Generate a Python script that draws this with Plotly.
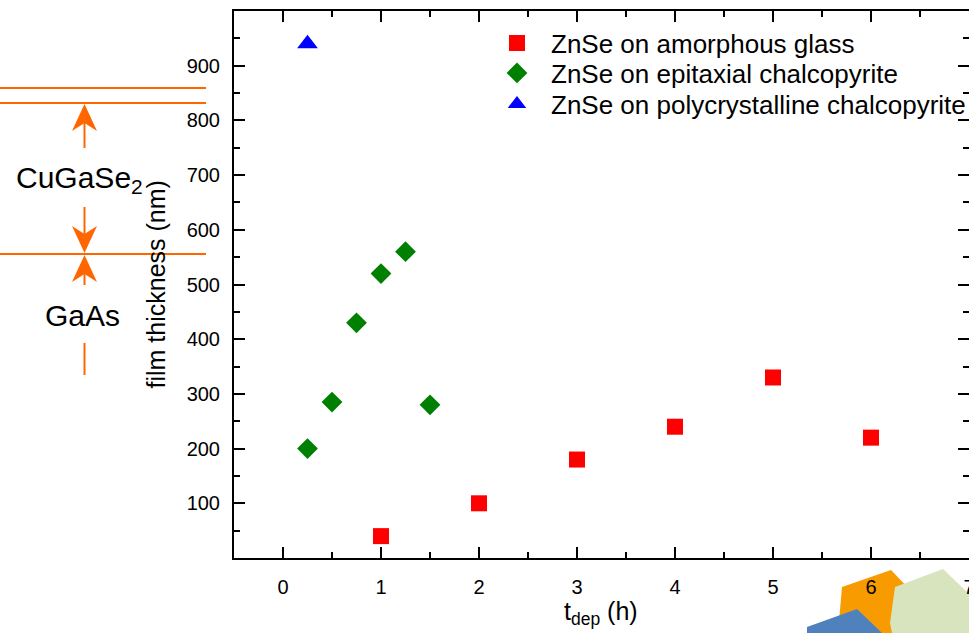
import plotly.graph_objects as go

# ---------------- data ----------------
amorph_t = [1, 2, 3, 4, 5, 6]
amorph_d = [40, 100, 180, 240, 330, 220]
epi_t = [0.25, 0.5, 0.75, 1.0, 1.25, 1.5]
epi_d = [200, 285, 430, 520, 560, 280]
poly_t = [0.25]
poly_d = [940]

series_names = ["ZnSe on amorphous glass",
                "ZnSe on epitaxial chalcopyrite",
                "ZnSe on polycrystalline chalcopyrite"]
x_ticks = [0, 1, 2, 3, 4, 5, 6, 7]
y_ticks = [100, 200, 300, 400, 500, 600, 700, 800, 900]
y_minor = [50, 150, 250, 350, 450, 550, 650, 750, 850, 950]

# ---------------- geometry helpers (decoration only) ----------------
W, H = 969, 633
L, R, T, B = 234, 0, 11, 75
PW = W - L - R
PH = H - T - B


def px(x):
    return (x - L) / PW


def py(y):
    return (H - B - y) / PH


FONT = "Liberation Sans, Arial, sans-serif"
ORANGE = "#ff6600"

fig = go.Figure()
fig.add_trace(go.Scatter(x=amorph_t, y=amorph_d, mode="markers", name=series_names[0],
                         legend="legend", showlegend=True,
                         marker=dict(symbol="square", size=16, color="#ff0000")))
fig.add_trace(go.Scatter(x=epi_t, y=epi_d, mode="markers", name=series_names[1],
                         legend="legend2", showlegend=True,
                         marker=dict(symbol="diamond", size=16, color="#008000")))
fig.add_trace(go.Scatter(x=poly_t, y=poly_d, mode="markers", name=series_names[2],
                         legend="legend3", showlegend=True,
                         marker=dict(symbol="triangle-up", size=18, color="#0000ff")))

shapes = []


def line(x0, y0, x1, y1, color=ORANGE, w=2):
    shapes.append(dict(type="line", xref="paper", yref="paper",
                       x0=px(x0), y0=py(y0), x1=px(x1), y1=py(y1),
                       line=dict(color=color, width=w)))


def poly(pts, color, lw=0, layer="above"):
    p = "M " + " L ".join(f"{px(a)},{py(b)}" for a, b in pts) + " Z"
    shapes.append(dict(type="path", xref="paper", yref="paper", path=p, layer=layer,
                       fillcolor=color, line=dict(color=color, width=lw)))


def head(xt, yt, d):
    # d = +1 pointing up (wings below tip), -1 pointing down
    poly([(xt, yt), (xt - 12.5, yt + d * 27), (xt, yt + d * 19), (xt + 12.5, yt + d * 27)], ORANGE)


# schematic on the left
line(0, 88, 206, 88)
line(0, 103, 206, 103)
line(0, 254, 206, 254)
ax = 84.5
line(ax, 148, ax, 120)
head(ax, 104, 1)
line(ax, 207, ax, 237)
head(ax, 253, -1)
line(ax, 285, ax, 272)
head(ax, 255, 1)
line(ax, 343, ax, 375)

# decoration bottom right (behind tick labels)
poly([(842, 587), (891, 570), (912, 592), (912, 633), (838, 633)], "#f89b00", layer="below")
poly([(895, 587), (943, 569), (969, 594), (969, 633), (892, 633), (890, 623)], "#d7e4bd", layer="below")
poly([(807, 627), (857, 609), (882, 633), (807, 633)], "#4f81bd", layer="below")

annotations = [
    dict(text="film thickness (nm)", x=px(155), y=0.5, xref="paper", yref="paper",
         textangle=-90, showarrow=False, xanchor="center", yanchor="middle",
         font=dict(family=FONT, size=25, color="black")),
    dict(text="t<sub>dep</sub> (h)", x=px(601), y=py(613), xref="paper", yref="paper",
         showarrow=False, xanchor="center", yanchor="middle",
         font=dict(family=FONT, size=25, color="black")),
    dict(text="CuGaSe<sub>2</sub>", x=px(79), y=py(180), xref="paper", yref="paper",
         showarrow=False, xanchor="center", yanchor="middle",
         font=dict(family=FONT, size=30, color="black")),
    dict(text="GaAs", x=px(82.5), y=py(316), xref="paper", yref="paper",
         showarrow=False, xanchor="center", yanchor="middle",
         font=dict(family=FONT, size=30, color="black")),
]

axis_common = dict(showline=True, linecolor="black", linewidth=2, mirror="ticks",
                   ticks="inside", ticklen=11, tickwidth=2, tickcolor="black",
                   showgrid=False, zeroline=False, ticklabeloverflow="allow",
                   tickfont=dict(family=FONT, size=20, color="black"))

legend_common = dict(xanchor="left", yanchor="middle", bgcolor="rgba(0,0,0,0)",
                     borderwidth=0, itemwidth=58, visible=True,
                     font=dict(family=FONT, size=26, color="black"))

fig.update_layout(
    width=W, height=H,
    showlegend=True,
    margin=dict(l=L, r=R, t=T, b=B, autoexpand=False),
    paper_bgcolor="white", plot_bgcolor="white",
    font=dict(family=FONT, color="black"),
    xaxis=dict(range=[-0.5, 7.0], tickmode="array", tickvals=x_ticks,
               minor=dict(tickmode="linear", tick0=0.5, dtick=1, ticks="inside", ticklen=6,
                          tickwidth=2, tickcolor="black"),
               ticklabelstandoff=10, **axis_common),
    yaxis=dict(range=[0, 1000], tickmode="array", tickvals=y_ticks,
               minor=dict(tickmode="array", tickvals=y_minor, ticks="inside", ticklen=6,
                          tickwidth=2, tickcolor="black"),
               ticklabelstandoff=8, **axis_common),
    legend=dict(x=px(483), y=py(43), **legend_common),
    legend2=dict(x=px(483), y=py(73), **legend_common),
    legend3=dict(x=px(483), y=py(104), **legend_common),
    shapes=shapes,
    annotations=annotations,
)

fig.write_html("out.html", config={"displayModeBar": False},
               post_script="document.body.style.margin='0';")
